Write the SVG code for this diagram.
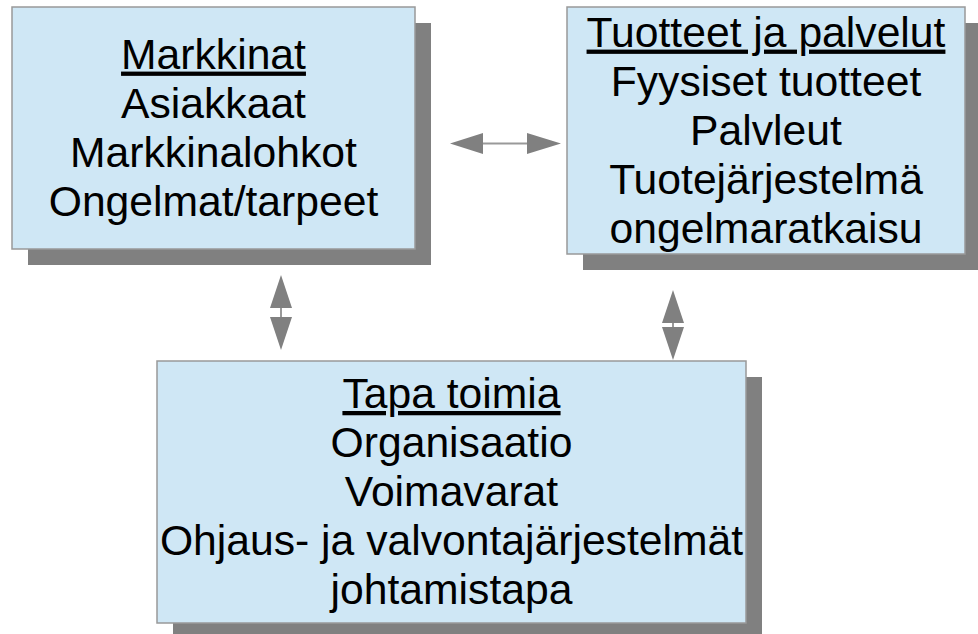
<svg xmlns="http://www.w3.org/2000/svg" width="978" height="634" viewBox="0 0 978 634">
<style>
.shadow{fill:#808080}
.box{fill:#cfe7f5;stroke:#999;stroke-width:1.5}
.t{font-family:"Liberation Sans",Arial,sans-serif;font-size:42.67px;fill:#000;text-anchor:middle}
.u{text-decoration:underline}
.stem{stroke:#999;stroke-width:2;fill:none}
.head{fill:#808080}
</style>
<rect width="978" height="634" fill="#fff"/>
<g id="markkinat">
<rect class="shadow" x="28" y="23" width="403" height="242"/>
<rect class="box" x="12" y="7" width="403" height="242"/>
<text class="t" x="213.5" y="68.6"><tspan class="u">Markkinat</tspan></text>
<text class="t" x="213.5" y="117.6">Asiakkaat</text>
<text class="t" x="213.5" y="166.6">Markkinalohkot</text>
<text class="t" x="213.5" y="215.6">Ongelmat/tarpeet</text>
</g>
<g id="tuotteet">
<rect class="shadow" x="583" y="23" width="398" height="247"/>
<rect class="box" x="567" y="7" width="398" height="247"/>
<text class="t" x="766" y="46.6"><tspan class="u">Tuotteet ja palvelut</tspan></text>
<text class="t" x="766" y="95.6">Fyysiset tuotteet</text>
<text class="t" x="766" y="144.6">Palvleut</text>
<text class="t" x="766" y="193.6">Tuotejärjestelmä</text>
<text class="t" x="766" y="242.6">ongelmaratkaisu</text>
</g>
<g id="tapa">
<rect class="shadow" x="173" y="377" width="589" height="262"/>
<rect class="box" x="157" y="361" width="589" height="262"/>
<text class="t" x="451.5" y="408"><tspan class="u">Tapa toimia</tspan></text>
<text class="t" x="451.5" y="457">Organisaatio</text>
<text class="t" x="451.5" y="506">Voimavarat</text>
<text class="t" x="451.5" y="555">Ohjaus- ja valvontajärjestelmät</text>
<text class="t" x="451.5" y="604">johtamistapa</text>
</g>
<g id="connectors">
<line class="stem" x1="483" y1="143.5" x2="527" y2="143.5"/>
<polygon class="head" points="450,143.5 483,133 483,154"/>
<polygon class="head" points="561,143.5 527,133 527,154"/>
<line class="stem" x1="281" y1="308" x2="281" y2="317"/>
<polygon class="head" points="281,275 270,308 292,308"/>
<polygon class="head" points="281,350 270,317 292,317"/>
<line class="stem" x1="673" y1="323" x2="673" y2="327"/>
<polygon class="head" points="673,290 662,323 684,323"/>
<polygon class="head" points="673,360 662,327 684,327"/>
</g>
</svg>
